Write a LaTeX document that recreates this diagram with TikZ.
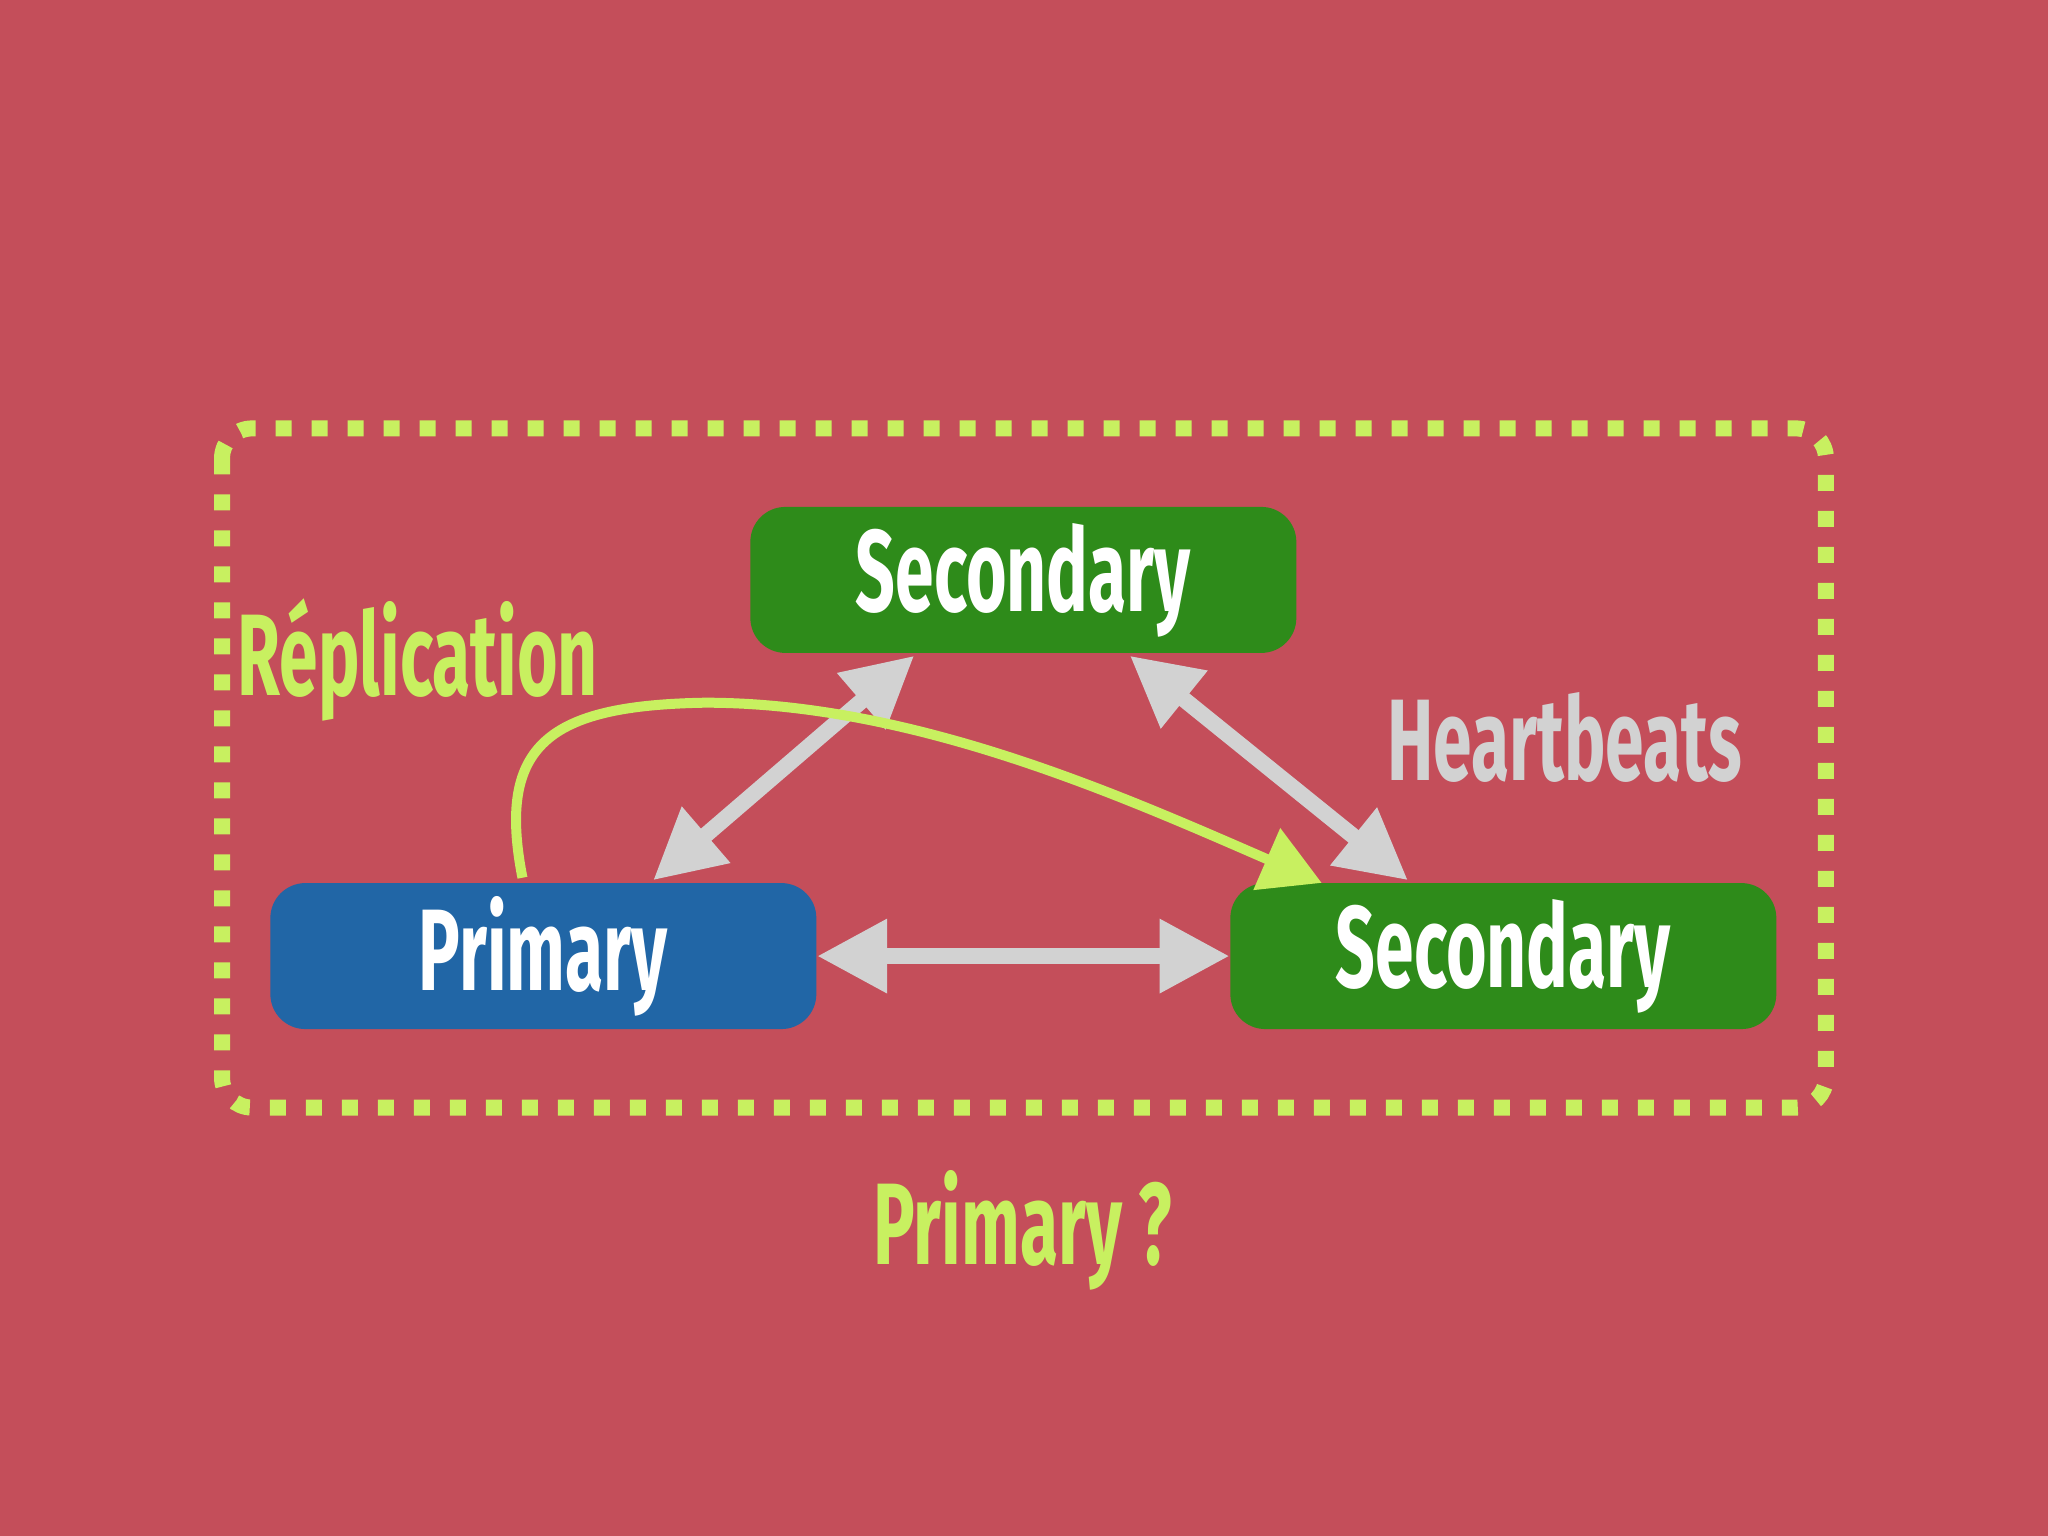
\documentclass[tikz,border=0pt]{standalone}
\usepackage{fontspec}
\setmainfont{Fira Sans}
\usetikzlibrary{arrows.meta}
\definecolor{bg}{HTML}{C44E5A}
\definecolor{grn}{HTML}{2E8B1A}
\definecolor{blu}{HTML}{2166A6}
\definecolor{lime}{HTML}{C8F060}
\definecolor{gry}{HTML}{D2D2D2}
\tikzset{
 box/.style={rounded corners=0.35cm, minimum width=5.46cm, minimum height=1.46cm, inner sep=0pt, text=white},
 lbl/.style={font=\fontsize{33}{40}\selectfont\bfseries},
 hb/.style={draw=gry, line width=0.16cm, {Triangle[length=0.7cm,width=0.7cm]}-{Triangle[length=0.7cm,width=0.7cm]}},
}
\newcommand{\cond}[1]{\scalebox{0.6}[1]{#1}}
\begin{document}
\begin{tikzpicture}[x=0.01306cm,y=-0.01306cm]
\fill[bg] (0,0) rectangle (1568,1176);
\useasboundingbox (0,0) rectangle (1568,1176);
\draw[lime, line width=0.16cm, dash pattern=on 0.16cm off 0.2cm, rounded corners=0.3cm] (170,328) rectangle (1398,848);
\node[box, fill=grn, lbl] (s1) at (783.5,444) {\cond{Secondary}};
\node[box, fill=blu, lbl] (p) at (416,732) {\cond{Primary}};
\node[box, fill=grn, lbl] (s2) at (1151,732) {\cond{Secondary}};
\node[lbl, text=lime] (rep) at (320,505) {\cond{R\'eplication}};
\node[lbl, text=gry] (hbt) at (1198,565) {\cond{Heartbeats}};
\node[lbl, text=lime] (q) at (783,942) {\cond{Primary ?}};
\coordinate (a1) at (700,502); \coordinate (a2) at (500,674);
\coordinate (b1) at (865,502); \coordinate (b2) at (1078,674);
\draw[hb] (a1) -- (a2);
\draw[hb] (b1) -- (b2);
\draw[hb] (p.east) -- (s2.west);
\coordinate (r0) at (400,672); \coordinate (r1) at (1012,676);
\draw[lime, line width=0.1cm, -{Triangle[length=0.6cm,width=0.65cm]}] (r0) .. controls (380,570) and (420,540) .. (540,538) .. controls (700,538) and (860,610) .. (r1);
\end{tikzpicture}
\end{document}
